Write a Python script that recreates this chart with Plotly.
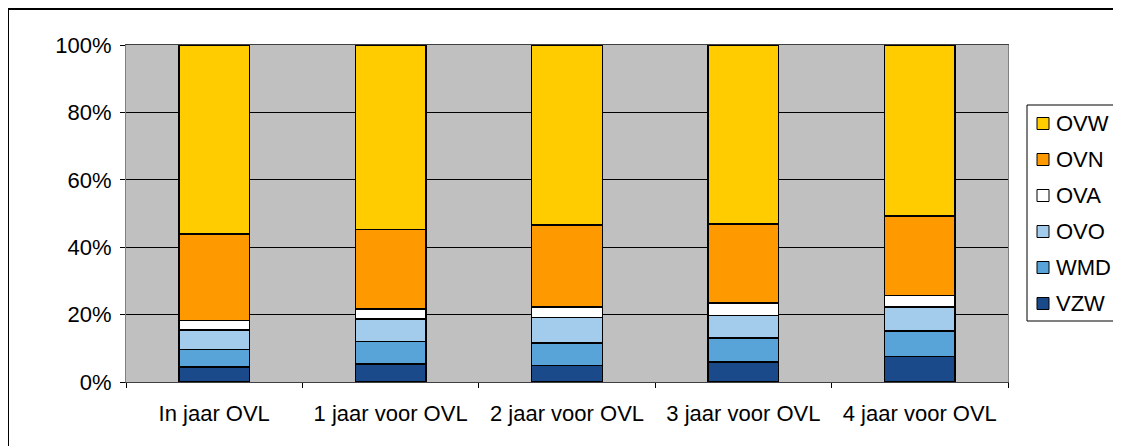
import plotly.graph_objects as go

categories = ["In jaar OVL", "1 jaar voor OVL", "2 jaar voor OVL", "3 jaar voor OVL", "4 jaar voor OVL"]
series_names = ["VZW", "WMD", "OVO", "OVA", "OVN", "OVW"]
vzw = [4.5, 5.4, 4.9, 5.9, 7.5]
wmd = [5.1, 6.6, 6.7, 7.2, 7.6]
ovo = [5.8, 6.7, 7.6, 6.6, 7.1]
ova = [2.8, 3.0, 3.0, 3.7, 3.5]
ovn = [25.7, 23.6, 24.4, 23.5, 23.6]
ovw = [56.1, 54.7, 53.4, 53.1, 50.7]
y_ticks = [0, 20, 40, 60, 80, 100]
y_tick_labels = ["0%", "20%", "40%", "60%", "80%", "100%"]

series_values = [vzw, wmd, ovo, ova, ovn, ovw]
colors = ["#1A4A89", "#58A3D8", "#A3CCEC", "#FFFFFF", "#FF9900", "#FFCC00"]

# The page body has an 8px margin; the figure is sized to fill the window.
OFF = 8
W, H = 1121 - OFF, 446 - OFF
# plot area in screenshot pixels
PX0, PX1, PY0, PY1 = 126, 1008, 45, 382
PW, PH = PX1 - PX0, PY1 - PY0


def px(x):
    return (x - PX0) / PW


def py(y):
    return (PY1 - y) / PH


fig = go.Figure()
for name, vals, col in zip(series_names, series_values, colors):
    fig.add_trace(go.Bar(
        x=categories, y=vals, name=name, showlegend=False,
        marker=dict(color=col, line=dict(color="black", width=1.5)),
    ))

font = dict(family="Liberation Sans, Arial, sans-serif", size=22, color="black")

shapes = [
    # outer chart border
    dict(type="rect", xref="paper", yref="paper",
         x0=px(OFF), x1=px(1140), y0=py(470), y1=py(OFF + 1),
         line=dict(color="black", width=2), fillcolor="rgba(0,0,0,0)", layer="above"),
    # legend box
    dict(type="rect", xref="paper", yref="paper",
         x0=px(1027), x1=px(1116), y0=py(321), y1=py(105),
         line=dict(color="black", width=1), fillcolor="white", layer="above"),
]
annotations = []
legend_order = list(reversed(list(zip(series_names, colors))))
for i, (name, col) in enumerate(legend_order):
    cy = 123.5 + 36 * i
    shapes.append(dict(
        type="rect", xref="paper", yref="paper",
        x0=px(1037), x1=px(1049), y0=py(cy + 6), y1=py(cy - 6),
        line=dict(color="black", width=1), fillcolor=col, layer="above"))
    annotations.append(dict(
        xref="paper", yref="paper", x=px(1054), y=py(cy),
        xanchor="left", yanchor="middle", text=name, showarrow=False,
        font=font))

fig.update_layout(
    width=W, height=H,
    barmode="stack", barnorm="percent", bargap=0.6,
    plot_bgcolor="#C0C0C0", paper_bgcolor="white",
    margin=dict(l=PX0 - OFF, r=W - (PX1 - OFF), t=PY0 - OFF, b=H - (PY1 - OFF), autoexpand=False),
    font=font,
    showlegend=False,
    xaxis=dict(
        showline=True, linecolor="#404040", linewidth=1, mirror=True,
        ticks="outside", ticklen=5, tickcolor="black", tickson="boundaries",
        showgrid=False, ticklabelstandoff=12, tickfont=font,
    ),
    yaxis=dict(
        range=[0, 100], tickmode="array", tickvals=y_ticks, ticktext=y_tick_labels,
        showline=True, linecolor="#808080", linewidth=1, mirror=True,
        ticks="outside", ticklen=5, tickcolor="black",
        showgrid=True, gridcolor="black", gridwidth=1, zeroline=False,
        ticklabelstandoff=4, tickfont=font,
    ),
    shapes=shapes,
    annotations=annotations,
)

fig.write_html("out.html")
